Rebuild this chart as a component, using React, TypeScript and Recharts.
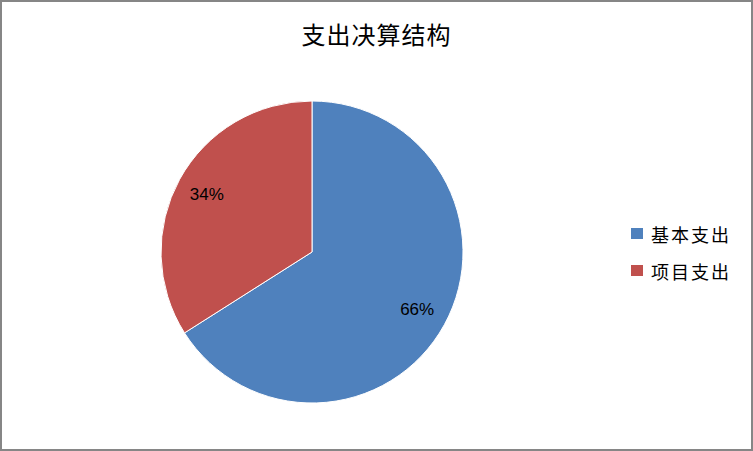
import React from "react";
import { PieChart, Pie, Cell, Legend } from "recharts";

const categories = ["基本支出", "项目支出"];
const values = [66, 34];
const colors = ["#4F81BD", "#C0504D"];
const title = "支出决算结构";

const data = categories.map((name, i) => ({ name, value: values[i] }));

const RADIAN = Math.PI / 180;

const renderLabel = (props: any) => {
  const { cx, cy, midAngle, percent } = props;
  const r = 120;
  const x = cx + r * Math.cos(-midAngle * RADIAN);
  const y = cy + r * Math.sin(-midAngle * RADIAN);
  return (
    <text
      x={x}
      y={y}
      fill="#000"
      textAnchor="middle"
      dominantBaseline="central"
      style={{ fontFamily: "'Liberation Sans', sans-serif", fontSize: 17 }}
    >
      {`${Math.round(percent * 100)}%`}
    </text>
  );
};

const renderLegend = () => (
  <div style={{ fontFamily: "'Noto Sans CJK SC', sans-serif", fontSize: 18 }}>
    {categories.map((c, i) => (
      <div
        key={c}
        style={{ display: "flex", alignItems: "center", height: 37 }}
      >
        <span
          style={{
            display: "inline-block",
            width: 12,
            height: 11,
            background: colors[i],
            marginRight: 8,
          }}
        />
        <span style={{ letterSpacing: 2, color: "#000" }}>{c}</span>
      </div>
    ))}
  </div>
);

export default function App() {
  return (
    <div
      style={{
        position: "absolute",
        left: 0,
        top: 0,
        width: 753,
        height: 451,
        boxSizing: "border-box",
        border: "2px solid #868686",
        background: "#fff",
        overflow: "hidden",
      }}
    >
      <div
        style={{
          position: "absolute",
          left: -2,
          top: 14,
          width: 753,
          textAlign: "center",
          fontFamily: "'Noto Sans CJK SC', sans-serif",
          fontSize: 24,
          letterSpacing: 1,
          color: "#000",
          lineHeight: "36px",
        }}
      >
        {title}
      </div>
      <div style={{ position: "absolute", left: -2, top: -2 }}>
        <PieChart
          width={753}
          height={451}
          margin={{ top: 0, right: 0, bottom: 0, left: 0 }}
        >
          <Pie
            data={data}
            dataKey="value"
            nameKey="name"
            cx={312}
            cy={252}
            outerRadius={151}
            startAngle={90}
            endAngle={-270}
            stroke="#fff"
            strokeWidth={1}
            label={renderLabel}
            labelLine={false}
            isAnimationActive={false}
          >
            {data.map((d, i) => (
              <Cell key={d.name} fill={colors[i]} />
            ))}
          </Pie>
          <Legend
            layout="vertical"
            align="right"
            verticalAlign="top"
            content={renderLegend}
            wrapperStyle={{ left: 631, top: 215, width: 120 }}
          />
        </PieChart>
      </div>
    </div>
  );
}
